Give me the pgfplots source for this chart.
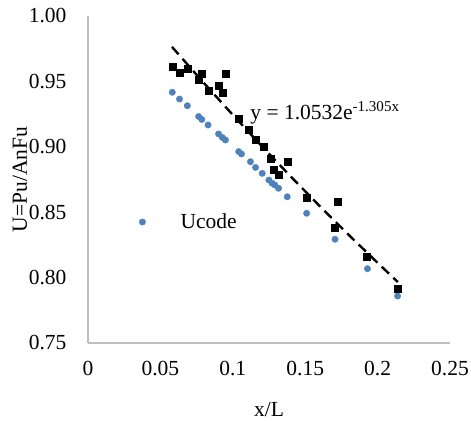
\documentclass[border=0pt]{standalone}
\usepackage{fontspec}
\setmainfont{Liberation Serif}
\usepackage{pgfplots}
\usepackage{pgfplotstable}
\pgfplotsset{compat=1.18}

\definecolor{ublue}{HTML}{4F81BD}
\definecolor{axgray}{HTML}{BFBFBF}

% Ucode points (blue dots)
\pgfplotstableread{
x y
0.0582 0.9417
0.0632 0.9365
0.0686 0.9314
0.0764 0.9232
0.0786 0.9209
0.0829 0.9167
0.0902 0.9098
0.0928 0.9071
0.0949 0.9052
0.1041 0.8963
0.1060 0.8945
0.1122 0.8886
0.1157 0.8842
0.1203 0.8797
0.1249 0.8746
0.1272 0.8721
0.1290 0.8708
0.1316 0.8683
0.1376 0.8618
0.1510 0.8492
0.1706 0.8293
0.1930 0.8068
0.2138 0.7859
}\ucode

% test points (black squares)
\pgfplotstableread{
x y
0.0584 0.9612
0.0632 0.9567
0.0686 0.9595
0.0787 0.9562
0.0767 0.9511
0.0951 0.9557
0.0833 0.9427
0.0900 0.9467
0.0928 0.9417
0.1041 0.9213
0.1110 0.9134
0.1157 0.9057
0.1210 0.9001
0.1260 0.8912
0.1376 0.8886
0.1283 0.8823
0.1314 0.8790
0.1510 0.8611
0.1722 0.8580
0.1706 0.8381
0.1925 0.8160
0.2138 0.7918
}\tests

% exponential trendline
\pgfplotstableread{
x y
0.058 0.9764
0.080 0.9488
0.100 0.9244
0.120 0.9005
0.140 0.8773
0.160 0.8547
0.180 0.8327
0.200 0.8113
0.214 0.7966
}\trend

\begin{document}
\begin{tikzpicture}
  \begin{axis}[
    scale only axis,
    width=362bp, height=327bp,
    xmin=0, xmax=0.25,
    ymin=0.75, ymax=1.00,
    xtick={0,0.05,0.1,0.15,0.2,0.25},
    xticklabels={0,0.05,0.1,0.15,0.2,0.25},
    ytick={0.75,0.8,0.85,0.9,0.95,1.0},
    yticklabels={0.75,0.80,0.85,0.90,0.95,1.00},
    /pgf/number format/assume math mode=true,
    axis x line*=bottom, axis y line*=left,
    axis line style={draw=axgray, line width=1.2bp, -},
    major tick length=0pt,
    font=\fontsize{21.5bp}{26bp}\selectfont,
    xticklabel style={yshift=-15bp},
    yticklabel style={xshift=-18bp},
    xlabel={x/L},
    ylabel={U=Pu/AnFu},
    xlabel style={at={([yshift=-67bp]axis description cs:0.5,0)}, anchor=center},
    ylabel style={at={([xshift=-68bp]axis description cs:0,0.5)}, anchor=center},
    legend style={draw=none, fill=none, inner sep=0pt,
      at={([xshift=50bp,yshift=121bp]axis description cs:0,0)}, anchor=west},
    legend image code/.code={
      \path (-4bp,0bp) (36bp,0bp);
      \draw[mark repeat=2, mark phase=2] plot coordinates {(-10bp,0bp) (0bp,0bp) (36bp,0bp)};
    },
    clip=false,
  ]
    \addplot[only marks, mark=*, mark size=3.2bp, color=ublue] table {\ucode};
    \addlegendentry{Ucode}

    \addplot[only marks, mark=square*, mark size=3.5bp, color=black, forget plot] table {\tests};

    \addplot[black, line width=2.4bp, dash pattern=on 10bp off 6bp, forget plot] table {\trend};

    \node[anchor=west, inner sep=0pt] at (axis cs:0.112,0.9258)
      {y = 1.0532e\textsuperscript{-1.305x}};
  \end{axis}
  \pgfresetboundingbox
  \path (current axis.south west) ++(-88bp,-78bp) rectangle ++(471bp,421bp);
\end{tikzpicture}
\end{document}
